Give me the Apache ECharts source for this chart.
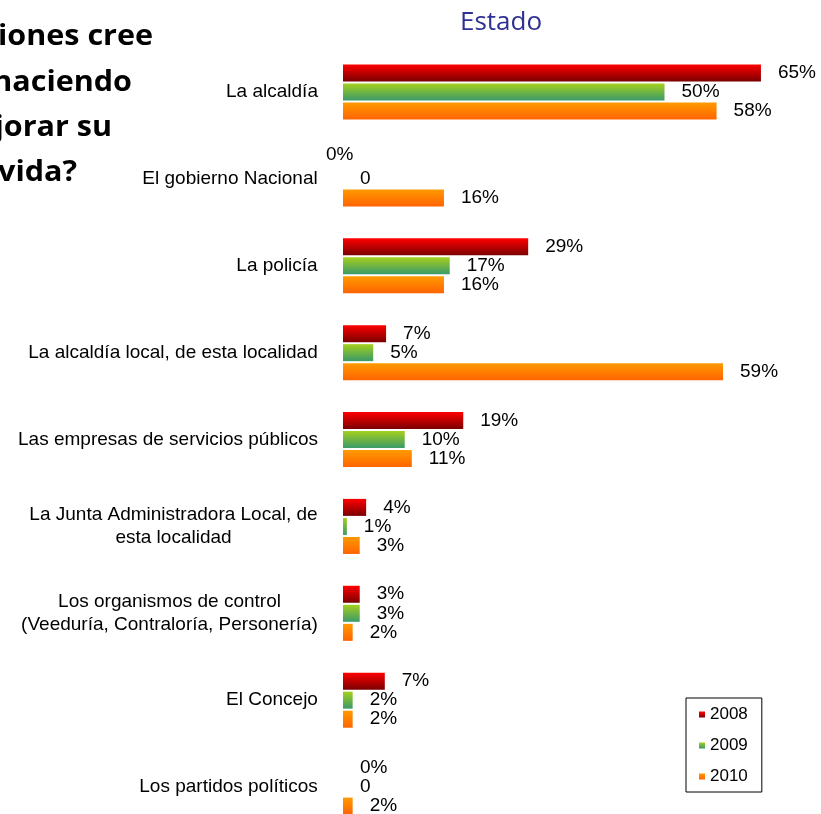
<!DOCTYPE html>
<html>
<head>
<meta charset="utf-8">
<script src="https://cdn.jsdelivr.net/npm/echarts@6/dist/echarts.min.js"></script>
<style>
html,body{margin:0;padding:0;background:#fff;}
#chart{width:821px;height:814px;}
</style>
</head>
<body>
<div id="chart"></div>
<script>
const categories = [
  'La alcaldía',
  'El gobierno Nacional',
  'La policía',
  'La alcaldía local, de esta localidad',
  'Las empresas de servicios públicos',
  'La Junta Administradora Local, de\nesta localidad',
  'Los organismos de control\n(Veeduría, Contraloría, Personería)',
  'El Concejo',
  'Los partidos políticos'
];
const seriesNames = ['2008', '2009', '2010'];
const values2008 = [65, 0, 28.8, 6.7, 18.7, 3.6, 2.6, 6.5, 0];
const values2009 = [50, 0, 16.6, 4.7, 9.6, 0.6, 2.6, 1.5, 0];
const values2010 = [58.1, 15.7, 15.7, 59.1, 10.7, 2.6, 1.5, 1.5, 1.5];
const titleText = 'Estado';
const questionLines = ['¿Qué instituciones cree', 'usted que están haciendo', 'más para mejorar su', 'calidad de vida?'];

const chart = echarts.init(document.getElementById('chart'), null, {renderer: 'canvas'});

const catFont = '19px "Liberation Sans"';
const ctx = document.createElement('canvas').getContext('2d');
ctx.font = catFont;
const rich = {};
categories.forEach((c, i) => {
  const w = Math.max(...c.split('\n').map(l => ctx.measureText(l).width));
  rich['c' + i] = {width: Math.ceil(w), align: 'center', fontSize: 19, fontFamily: 'Liberation Sans', color: '#000', lineHeight: 23};
});

function grad(top, bottom) {
  return new echarts.graphic.LinearGradient(0, 0, 0, 1, [
    {offset: 0, color: top}, {offset: 1, color: bottom}
  ]);
}
const colors = [grad('#ff0000', '#7a0000'), grad('#a4cf1c', '#3a9a6a'), grad('#ff9a00', '#ff6400')];
const data = [values2008, values2009, values2010];

function makeData(vals, si) {
  return vals.map((v, i) => {
    const item = {value: v};
    if (si === 0 && i === 1) {
      item.label = {offset: [-34, -5]};
    }
    return item;
  });
}

const series = seriesNames.map((n, si) => ({
  name: n,
  type: 'bar',
  data: makeData(data[si], si),
  barWidth: 17,
  barGap: '12%',
  itemStyle: {color: colors[si]},
  label: {
    show: true,
    position: 'right',
    distance: 17,
    fontSize: 19,
    fontFamily: 'Liberation Sans',
    color: '#000',
    formatter: p => (si === 1 && p.value === 0) ? '0' : Math.round(p.value) + '%'
  },
  animation: false
}));

const rightEdges = [153, 132, 112, 77];
const baselines = [47, 93, 138, 183];
const graphics = questionLines.map((t, i) => ({
  type: 'text',
  x: rightEdges[i],
  y: baselines[i] - 10,
  scaleX: 1.09,
  style: {
    text: t,
    x: 0,
    y: 0,
    align: 'right',
    verticalAlign: 'middle',
    fontSize: 28,
    fontWeight: 'bold',
    fontFamily: 'Open Sans',
    fill: '#000'
  }
}));

chart.setOption({
  animation: false,
  title: {
    text: titleText,
    left: 496,
    top: 5,
    textAlign: 'center',
    textStyle: {fontFamily: 'Open Sans', fontWeight: 'normal', fontSize: 26, color: '#2e3192'}
  },
  graphic: graphics,
  legend: {
    data: seriesNames,
    orient: 'vertical',
    left: 686,
    top: 698,
    padding: [8, 14, 7, 13],
    borderColor: '#000',
    borderWidth: 1,
    itemWidth: 6,
    itemHeight: 6,
    itemGap: 14,
    icon: 'rect',
    textStyle: {fontSize: 17, fontFamily: 'Liberation Sans', color: '#000'}
  },
  grid: {left: 343, top: 48.6, width: 643, height: 781.9, containLabel: false, outerBoundsMode: 'none'},
  xAxis: {
    type: 'value', min: 0, max: 100, show: false
  },
  yAxis: {
    type: 'category',
    data: categories,
    inverse: true,
    axisLine: {show: false},
    axisTick: {show: false},
    axisLabel: {
      margin: 25,
      align: 'right',
      formatter: (val, idx) => val.split('\n').map(l => '{c' + idx + '|' + l + '}').join('\n'),
      rich: rich
    }
  },
  series: series
});
</script>
</body>
</html>
